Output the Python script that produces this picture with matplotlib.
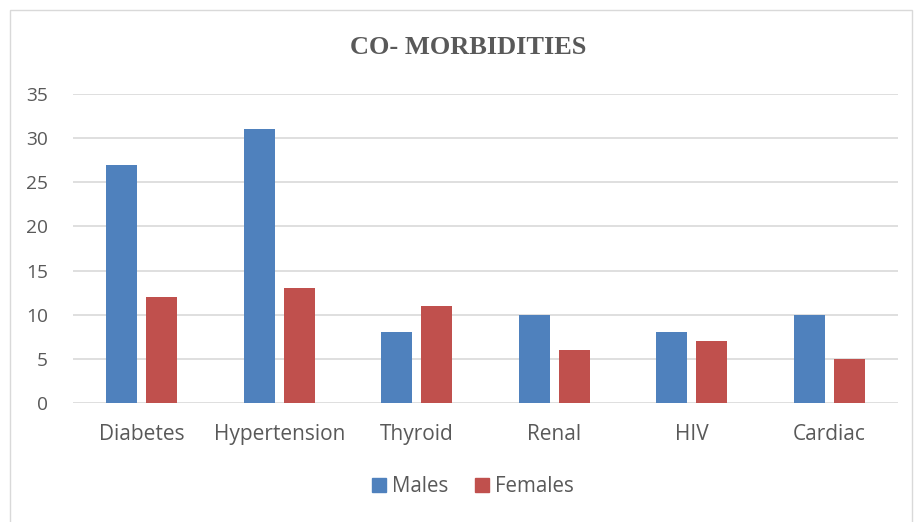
import matplotlib
matplotlib.use("Agg")
import matplotlib.pyplot as plt
from matplotlib.patches import Rectangle, Patch
import numpy as np

categories = ["Diabetes", "Hypertension", "Thyroid", "Renal", "HIV", "Cardiac"]
males = [27, 31, 8, 10, 8, 10]
females = [12, 13, 11, 6, 7, 5]
yticks = [0, 5, 10, 15, 20, 25, 30, 35]

W, H = 914, 522
fig = plt.figure(figsize=(W / 100, H / 100), dpi=100)
fig.patch.set_facecolor("white")

# outer chart border
fig.patches.append(Rectangle((10 / W, -0.01), (912 - 10) / W, (H - 10) / H + 0.01,
                             transform=fig.transFigure, fill=False,
                             edgecolor="#D9D9D9", linewidth=1.0))

ax = fig.add_axes([73 / W, 1 - 403 / H, (898 - 73) / W, (403 - 94) / H])
x = np.arange(len(categories))
bw = 0.225
off = 0.146
blue = "#4F81BD"
red = "#C0504D"
ax.bar(x - off, males, bw, color=blue, zorder=3, label="Males")
ax.bar(x + off, females, bw, color=red, zorder=3, label="Females")

ax.set_xlim(-0.5, len(categories) - 0.5)
ax.set_ylim(0, 35)
ax.set_yticks(yticks)
ax.set_xticks(x)
ax.set_xticklabels(categories)
ax.grid(axis="y", color="#D9D9D9", linewidth=1.2, zorder=0)
for s in ax.spines.values():
    s.set_visible(False)
ax.tick_params(length=0, colors="#595959", labelfontfamily="Open Sans")
ax.tick_params(axis="y", pad=18, labelsize=13.8)
ax.tick_params(axis="x", pad=15, labelsize=15)

fig.text(468 / W, 1 - 47 / H, "CO- MORBIDITIES", ha="center", va="center",
         fontsize=19, fontweight="bold", color="#595959", family="Liberation Serif")

handles = [Patch(color=blue), Patch(color=red)]
leg = fig.legend(handles, ["Males", "Females"], loc="center", bbox_to_anchor=(473 / W, 1 - 487 / H),
                 ncol=2, frameon=False, handlelength=0.68, handleheight=0.68, handletextpad=0.3,
                 columnspacing=1.3, prop={"family": "Open Sans", "size": 14.8})
for t in leg.get_texts():
    t.set_color("#595959")

fig.savefig("out.png", dpi=100, facecolor="white")
